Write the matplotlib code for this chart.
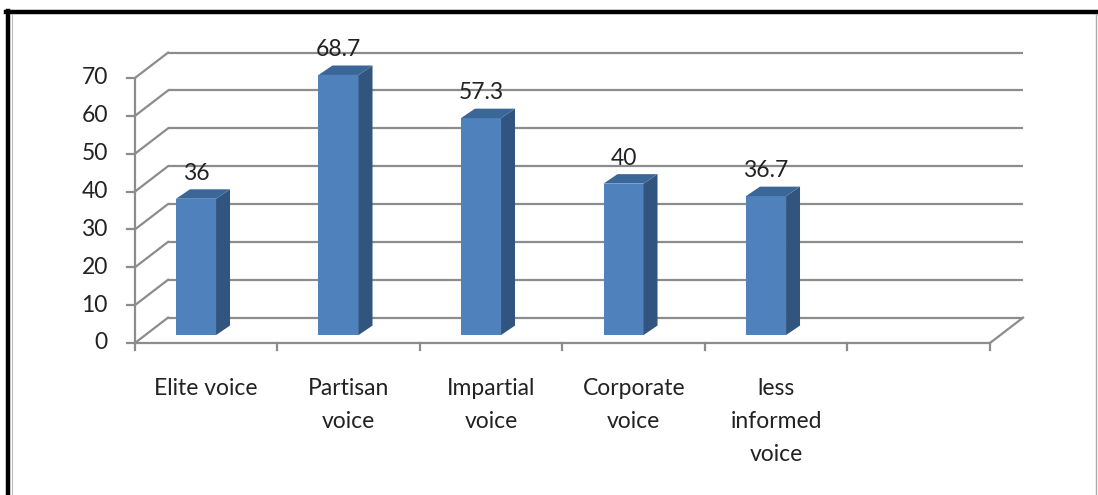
#!/usr/bin/env python3

import matplotlib
matplotlib.use("Agg")
import matplotlib.pyplot as plt
from matplotlib.patches import Polygon
from matplotlib.lines import Line2D


categories = ["Elite voice", "Partisan\nvoice", "Impartial\nvoice", "Corporate\nvoice",
              "less\ninformed\nvoice", ""]
values = [36, 68.7, 57.3, 40, 36.7]
value_labels = ["36", "68.7", "57.3", "40", "36.7"]
y_ticks = [0, 10, 20, 30, 40, 50, 60, 70]

FRONT = "#4f81bd"
SIDE = "#31557f"
TOP = "#3b6698"
GRID = "#8c8c8c"
TEXT = "#222222"

# oblique depth of the walls, in category / value units
DEPTH_X = 0.232
DEPTH_Y = 6.7
# bar placement inside the slot
BAR_X0 = 0.288
BAR_W = 0.281
BAR_BASE = 2.1
SIDE_X = 0.098
SIDE_Y = 2.5

FS = 16.5

plt.rcParams["font.family"] = ["Lato", "DejaVu Sans"]

fig = plt.figure(figsize=(10.98, 4.95), dpi=100)
ax = fig.add_axes([0, 0, 1, 1])
ax.set_xlim(-0.947, 6.758)
ax.set_ylim(-40.15, 90.6)
ax.axis("off")

n = len(categories)

# walls: back gridlines + left side diagonals
for v in y_ticks:
    ax.plot([DEPTH_X, n + DEPTH_X], [v + DEPTH_Y, v + DEPTH_Y], color=GRID, lw=1.6,
            solid_capstyle="butt", zorder=1)
    ax.plot([0, DEPTH_X], [v, v + DEPTH_Y], color=GRID, lw=1.6, zorder=1)
    ax.plot([-0.055, 0], [v, v], color=GRID, lw=1.6, zorder=1)
    ax.text(-0.19, v, str(v), ha="right", va="center", fontsize=FS, color=TEXT)

# axes lines on the front plane
ax.plot([0, 0], [0, y_ticks[-1]], color=GRID, lw=1.6, zorder=1)
ax.plot([0, n], [0, 0], color=GRID, lw=1.6, zorder=1)
ax.plot([n, n + DEPTH_X], [0, DEPTH_Y], color=GRID, lw=1.6, zorder=1)
for i in range(n + 1):
    ax.plot([i, i], [0, -1.9], color=GRID, lw=1.6, zorder=1)

# bars
for i, val in enumerate(values):
    x0 = i + BAR_X0
    x1 = x0 + BAR_W
    y0 = BAR_BASE
    y1 = val + BAR_BASE
    front = Polygon([(x0, y0), (x1, y0), (x1, y1), (x0, y1)], closed=True,
                    facecolor=FRONT, edgecolor="none", zorder=3)
    side = Polygon([(x1, y0), (x1 + SIDE_X, y0 + SIDE_Y), (x1 + SIDE_X, y1 + SIDE_Y), (x1, y1)],
                   closed=True, facecolor=SIDE, edgecolor="none", zorder=3)
    top = Polygon([(x0, y1), (x1, y1), (x1 + SIDE_X, y1 + SIDE_Y), (x0 + SIDE_X, y1 + SIDE_Y)],
                  closed=True, facecolor=TOP, edgecolor="none", zorder=3)
    for p in (front, side, top):
        ax.add_patch(p)
    ax.text((x0 + x1) / 2, y1 + SIDE_Y + 1.4, value_labels[i], ha="center", va="bottom",
            fontsize=FS, color=TEXT, zorder=4)

# category labels
for i, name in enumerate(categories):
    if name:
        ax.text(i + 0.5, -9.2, name, ha="center", va="top", fontsize=FS, color=TEXT,
                linespacing=1.72)

# outer frame: heavy black top/left, thin grey right
fig.add_artist(Line2D([0.0055, 0.999], [0.976, 0.976], transform=fig.transFigure,
                      color="black", lw=3.2))
fig.add_artist(Line2D([0.0073, 0.0073], [0.0, 0.978], transform=fig.transFigure,
                      color="black", lw=3.2))
fig.add_artist(Line2D([0.0105, 0.0105], [0.0, 0.972], transform=fig.transFigure,
                      color="#bbbbbb", lw=0.8))
fig.add_artist(Line2D([0.9985, 0.9985], [0.0, 0.972], transform=fig.transFigure,
                      color="#aaaaaa", lw=1.0))

fig.savefig("out.png", dpi=100)
